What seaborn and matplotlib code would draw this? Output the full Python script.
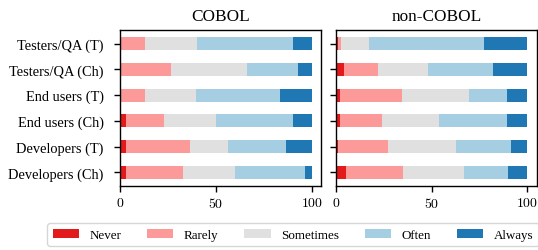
import matplotlib
matplotlib.use('Agg')
import matplotlib.pyplot as plt
import seaborn as sns
from matplotlib.patches import Patch
from matplotlib.ticker import FuncFormatter

# Данные (доли ответов, %)
categories = ['Testers/QA (T)', 'Testers/QA (Ch)', 'End users (T)',
              'End users (Ch)', 'Developers (T)', 'Developers (Ch)']
levels = ['Never', 'Rarely', 'Sometimes', 'Often', 'Always']
colors = ['#e31a1c', '#fb9a99', '#e0e0e0', '#a6cee3', '#1f78b4']

cobol_never = [0, 0, 0, 3, 3, 3]
cobol_rarely = [13, 26.5, 13, 20, 33.5, 30]
cobol_sometimes = [27, 39.5, 26.5, 27, 20, 27]
cobol_often = [50, 27, 44, 40, 30, 36.5]
cobol_always = [10, 7, 16.5, 10, 13.5, 3.5]

noncobol_never = [1.2, 4.4, 2.3, 2.3, 1.2, 5.4]
noncobol_rarely = [1.6, 17.7, 32.4, 21.9, 26.2, 29.8]
noncobol_sometimes = [14.6, 26.2, 35.0, 29.8, 35.5, 31.9]
noncobol_often = [60.1, 33.9, 19.8, 35.5, 28.7, 23.0]
noncobol_always = [22.5, 17.8, 10.5, 10.5, 8.4, 9.9]

panels = [
    ('COBOL', [cobol_never, cobol_rarely, cobol_sometimes, cobol_often, cobol_always]),
    ('non-COBOL', [noncobol_never, noncobol_rarely, noncobol_sometimes, noncobol_often, noncobol_always]),
]

plt.rcParams['font.family'] = 'serif'
plt.rcParams['font.serif'] = ['Liberation Serif']
plt.rcParams['mathtext.fontset'] = 'cm'
plt.rcParams['axes.linewidth'] = 1.0

fig = plt.figure(figsize=(5.38, 2.51), dpi=100)
W, H = 538, 251
ax_left = fig.add_axes([120.3 / W, (H - 187) / H, 201 / W, 156 / H])
ax_right = fig.add_axes([336 / W, (H - 187) / H, 201 / W, 156 / H])

for ax, (title, series) in zip([ax_left, ax_right], panels):
    # накопленные суммы, рисуем от длинных к коротким
    cums = []
    total = [0] * len(categories)
    for s in series:
        total = [a + b for a, b in zip(total, s)]
        cums.append(total)
    for cum, c in reversed(list(zip(cums, colors))):
        sns.barplot(x=cum, y=categories, orient='h', color=c, width=0.5,
                    saturation=1, linewidth=0, ax=ax)
    ax.set_xlim(0, 105)
    ax.set_ylim(5.525, -0.525)
    ax.set_xticks([0, 50, 100])
    ax.xaxis.set_major_formatter(FuncFormatter(lambda v, p: f'${int(v)}$'))
    ax.tick_params(axis='both', length=4, width=1.0)
    ax.tick_params(axis='x', labelsize=10)
    ax.tick_params(axis='y', labelsize=10.4, pad=8)
    ax.set_title(title, fontsize=12.4, pad=7)
    ax.set_xlabel('')
    ax.set_ylabel('')

ax_right.tick_params(labelleft=False)

handles = [Patch(facecolor=c, edgecolor='none', label=l) for l, c in zip(levels, colors)]
fig.legend(handles=handles, ncol=5, loc='lower center', fontsize=9.4,
           bbox_to_anchor=(293 / W, 4 / H), borderaxespad=0)

fig.savefig('out.png', dpi=100)
